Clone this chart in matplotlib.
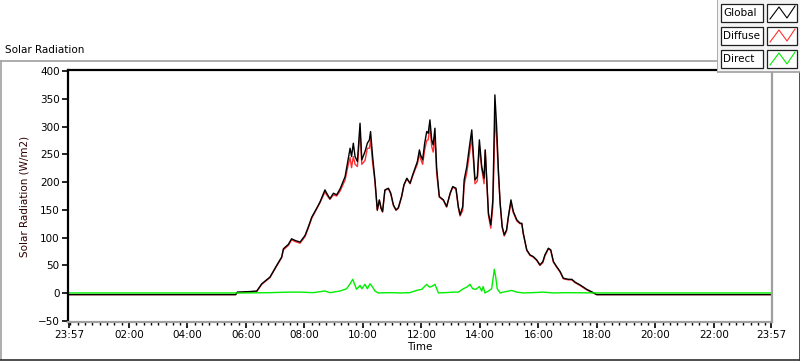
"""Solar radiation over one day: global, diffuse and direct."""

import matplotlib
matplotlib.use("Agg")
import matplotlib.pyplot as plt
from matplotlib.patches import Rectangle
from matplotlib.lines import Line2D

plt.rcParams["font.family"] = ["DejaVu Sans"]

# hours since midnight (23:57 of the previous day = -0.05)
t_global = [-0.05, 5.65, 5.70, 6.14, 6.37, 6.54, 6.82, 7.05, 7.22, 7.28, 7.45, 7.56,
            7.68, 7.85, 8.02, 8.13, 8.25, 8.42, 8.53, 8.70, 8.76, 8.87, 8.99, 9.10,
            9.22, 9.39, 9.44, 9.50, 9.56, 9.61, 9.67, 9.73, 9.81, 9.90, 9.96, 10.07,
            10.15, 10.22, 10.26, 10.33, 10.41, 10.49, 10.56, 10.62, 10.67, 10.75, 10.87,
            10.95, 11.04, 11.13, 11.21, 11.32, 11.40, 11.50, 11.61, 11.70, 11.78, 11.86,
            11.93, 11.97, 12.04, 12.11, 12.18, 12.23, 12.29, 12.35, 12.40, 12.46, 12.52,
            12.61, 12.75, 12.86, 12.98, 13.07, 13.18, 13.26, 13.32, 13.41, 13.46, 13.55,
            13.64, 13.72, 13.77, 13.83, 13.91, 13.98, 14.06, 14.14, 14.18, 14.23, 14.29,
            14.37, 14.44, 14.48, 14.51, 14.57, 14.63, 14.69, 14.76, 14.83, 14.91, 14.97,
            15.06, 15.14, 15.26, 15.37, 15.43, 15.48, 15.60, 15.71, 15.82, 15.94, 16.05,
            16.15, 16.22, 16.34, 16.42, 16.51, 16.62, 16.74, 16.85, 17.02, 17.14, 17.25,
            17.42, 17.65, 17.88, 17.99, 23.95]

global_rad = [-2.5, -2.5, 2, 3, 4, 17, 29, 50, 65, 80, 88, 98,
              95, 92, 104, 119, 137, 153, 164, 186, 180, 170, 180, 177,
              188, 210, 225, 243, 261, 246, 270, 246, 237, 306, 240, 255,
              270, 276, 291, 246, 204, 150, 168, 153, 147, 186, 189,
              180, 159, 150, 154, 174, 195, 207, 198, 213, 225, 237,
              258, 249, 240, 270, 291, 288, 312, 276, 267, 297, 225,
              174, 168, 156, 180, 192, 189, 156, 141, 156, 204, 228,
              264, 294, 252, 204, 210, 276, 228, 207, 258, 207, 144,
              123, 168, 270, 357, 300, 222, 162, 120, 105, 114, 138,
              168, 147, 132, 126, 126, 108, 78, 69, 66, 60, 51,
              57, 69, 81, 78, 57, 48, 39, 27, 25, 25, 20,
              15, 7, 1, -2.5, -2.5]

diffuse_rad = [-2.5, -2.5, 1, 2, 3, 16, 28, 49, 64, 78, 86, 96,
               93, 90, 102, 117, 135, 152, 163, 182, 177, 169, 177, 175,
               184, 204, 217, 232, 244, 226, 246, 232, 228, 292, 232, 239,
               261, 261, 276, 235, 200, 149, 167, 152, 146, 185, 188,
               179, 158, 149, 153, 173, 194, 206, 197, 211, 222, 232,
               251, 242, 232, 258, 275, 276, 300, 264, 254, 281, 215,
               173, 167, 155, 179, 191, 187, 154, 139, 149, 195, 217,
               250, 280, 244, 197, 202, 264, 224, 197, 257, 205, 140,
               117, 155, 235, 318, 279, 214, 161, 118, 103, 112, 136,
               163, 145, 130, 125, 125, 107, 77, 68, 65, 59, 50,
               55, 67, 80, 77, 56, 47, 38, 26, 24, 24, 19,
               14, 6, 0, -2.5, -2.5]

t_direct = [-0.05, 6.0, 6.8, 7.5, 7.85, 8.3, 8.70, 8.87, 9.22, 9.44, 9.56, 9.65,
            9.73, 9.78, 9.90, 9.96, 10.07, 10.15, 10.24, 10.33, 10.41, 10.52, 10.9,
            11.3, 11.6, 11.83, 12.01, 12.18, 12.27, 12.35, 12.46, 12.58, 12.8, 13.09,
            13.26, 13.43, 13.55, 13.66, 13.75, 13.86, 13.98, 14.06, 14.11, 14.17,
            14.29, 14.40, 14.49, 14.54, 14.59, 14.69, 14.80, 15.08, 15.26, 15.48,
            15.8, 16.17, 16.5, 17.0, 17.99, 23.95]

direct_rad = [0.5, 0.5, 1, 2, 2, 1, 4, 1, 4, 8, 17, 25,
              14, 7, 14, 8, 16, 8, 17, 11, 4, 0.5, 1,
              0.5, 1, 5, 7, 16, 11, 12, 16, 0.5, 1, 2,
              2, 8, 11, 16, 8, 7, 12, 4, 12, 0.5,
              4, 8, 43, 29, 8, 0.5, 2, 5, 2, 0.5,
              1, 2, 0.5, 1, 0.5, 0.5]

x_ticks = [-0.05, 2, 4, 6, 8, 10, 12, 14, 16, 18, 20, 22, 23.95]
x_labels = ["23:57", "02:00", "04:00", "06:00", "08:00", "10:00", "12:00",
            "14:00", "16:00", "18:00", "20:00", "22:00", "23:57"]
y_ticks = [-50, 0, 50, 100, 150, 200, 250, 300, 350, 400]

series_names = ["Global", "Diffuse", "Direct"]
series_colors = ["black", "#ff3030", "#00ee00"]

W, H = 800, 361
fig = plt.figure(figsize=(W / 100, H / 100), dpi=100)

# panel frame drawn in pixel coordinates
bg = fig.add_axes([0, 0, 1, 1], zorder=0)
bg.set_xlim(0, W)
bg.set_ylim(H, 0)
bg.axis("off")
bg.plot([0.5, 718], [61, 61], color="#a0a0a0", lw=1.2)
bg.plot([0.5, 0.5], [61, 359], color="#a0a0a0", lw=1.2)
bg.plot([0, 799.5], [359.5, 359.5], color="#303030", lw=1.2)
bg.plot([799.5, 799.5], [72, 359.5], color="#303030", lw=1.2)
bg.text(5, 50, "Solar Radiation", fontsize=7.5, va="center", ha="left")

ax = fig.add_axes([68 / W, 1 - 322 / H, (772 - 68) / W, (322 - 70) / H], zorder=1)
ax.plot(t_global, diffuse_rad, color=series_colors[1], lw=1.0)
ax.plot(t_global, global_rad, color=series_colors[0], lw=1.0)
ax.plot(t_direct, direct_rad, color=series_colors[2], lw=1.0)

ax.set_xlim(-0.084, 23.984)
ax.set_ylim(-51.8, 401.8)
ax.set_xticks(x_ticks)
ax.set_xticklabels(x_labels)
ax.set_xticks([q / 4 for q in range(0, 96)], minor=True)
ax.set_yticks(y_ticks)
ax.tick_params(axis="both", which="major", direction="out", length=4, width=1.2,
               labelsize=7.5, pad=2)
ax.tick_params(axis="x", which="minor", direction="out", length=2.5, width=1.0)
for s in ("left", "top"):
    ax.spines[s].set_color("black")
    ax.spines[s].set_linewidth(1.6)
for s in ("right", "bottom"):
    ax.spines[s].set_color("#a0a0a0")
    ax.spines[s].set_linewidth(1.6)
ax.set_xlabel("Time", fontsize=7.5, labelpad=1)
ax.set_ylabel("Solar Radiation (W/m2)", fontsize=7.5, labelpad=6, color="#300000")

# legend box in the top right corner
lg = fig.add_axes([717 / W, 1 - 73 / H, 83 / W, 73 / H], zorder=3)
lg.set_xlim(717, 800)
lg.set_ylim(73, 0)
lg.axis("off")
lg.add_patch(Rectangle((717, 0), 83, 72, facecolor="#f4f4f4", edgecolor="none"))
lg.plot([717.5, 717.5], [0, 72], color="#a0a0a0", lw=1.2)
lg.plot([717.5, 800], [72, 72], color="#a0a0a0", lw=1.2)
for i, (name, col) in enumerate(zip(series_names, series_colors)):
    top = 4 + i * 23
    lg.add_patch(Rectangle((721, top), 42, 18, facecolor="white",
                           edgecolor="#202020", lw=0.9))
    lg.text(723, top + 9, name, fontsize=7.5, va="center", ha="left")
    lg.add_patch(Rectangle((767, top), 30, 18, facecolor="white",
                           edgecolor="#202020", lw=0.9))
    lg.add_line(Line2D([770, 779, 787, 795], [top + 15, top + 3, top + 14, top + 2],
                       color=col, lw=0.8))

fig.savefig("out.png", dpi=100)
